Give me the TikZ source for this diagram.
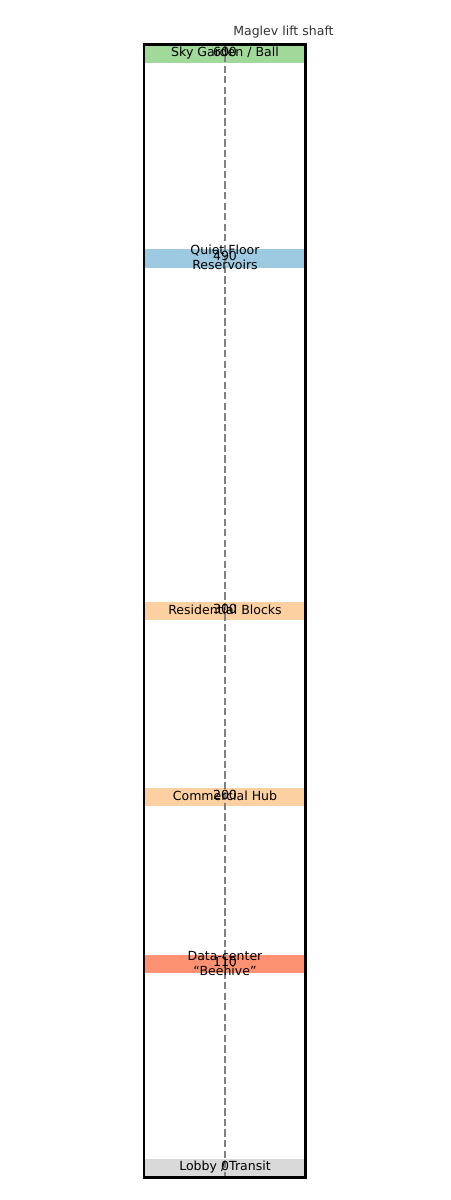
\documentclass[tikz,border=0pt]{standalone}
\usepackage{fontspec}
\setmainfont{DejaVu Sans}
\definecolor{cgreen}{HTML}{A1D99B}
\definecolor{cblue}{HTML}{9ECAE1}
\definecolor{corange}{HTML}{FDD0A2}
\definecolor{csalmon}{HTML}{FC9272}
\definecolor{cgray}{HTML}{D9D9D9}
\definecolor{ctitle}{HTML}{333333}
\begin{document}
\begin{tikzpicture}[x=0.75pt,y=-0.75pt,
  bandlbl/.style={font=\fontsize{9.4}{11.2}\selectfont, align=center, inner sep=0pt, text=black},
  numlbl/.style={font=\fontsize{9.4}{11.2}\selectfont, inner sep=0pt, text=black},
  shaft/.style={draw=gray, line width=1.1pt, dash pattern=on 5.5pt off 2.4pt}]
\useasboundingbox (0,0) rectangle (450,1200);
% bands: y = 1168.2 - 1.857 f, half-height 9.3
\fill[cgreen]  (144,44.7)  rectangle (305.5,63.3);
\fill[cblue]   (144,249.0) rectangle (305.5,267.6);
\fill[corange] (144,601.8) rectangle (305.5,620.4);
\fill[corange] (144,787.5) rectangle (305.5,806.1);
\fill[csalmon] (144,954.6) rectangle (305.5,973.2);
\fill[cgray]   (144,1158.9) rectangle (305.5,1177.5);
% shaft
\coordinate (stop) at (225,44.5);
\coordinate (sbot) at (225,1177.5);
\draw[shaft] (stop) -- (sbot);
% labels
\node[bandlbl] (l600) at (225,53.2) {Sky Garden / Ball};
\node[bandlbl] (l490) at (225,257.5) {Quiet Floor\\Reservoirs};
\node[bandlbl] (l300) at (225,610.3) {Residential Blocks};
\node[bandlbl] (l200) at (225,796.0) {Commercial Hub};
\node[bandlbl] (l110) at (225,963.1) {Data-center\\“Beehive”};
\node[bandlbl] (l0)   at (225,1167.5) {Lobby / Transit};
\node[numlbl] (n600) at (225,51.5) {600};
\node[numlbl] (n490) at (225,256.0) {490};
\node[numlbl] (n300) at (225,608.8) {300};
\node[numlbl] (n200) at (225,794.5) {200};
\node[numlbl] (n110) at (225,961.6) {110};
\node[numlbl] (n0)   at (225,1166.0) {0};
% frame
\draw[black, line width=2.1pt] (144,44.5) rectangle (305.5,1177.5);
\node[font=\fontsize{9.4}{11.2}\selectfont, text=ctitle, anchor=base west, inner sep=0pt] (title) at (233,35) {Maglev lift shaft};
\end{tikzpicture}
\end{document}
